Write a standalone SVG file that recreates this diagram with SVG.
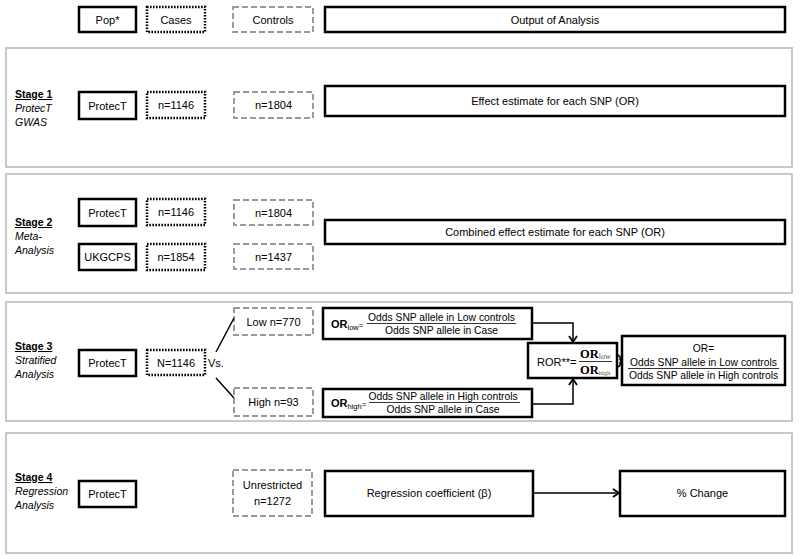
<svg xmlns="http://www.w3.org/2000/svg" width="800" height="559" viewBox="0 0 800 559">
<defs>
<style>
text{font-family:"Liberation Sans",Arial,sans-serif;font-size:11px;fill:#000}
.c{text-anchor:middle}
.panel{fill:#fff;stroke:#c8c8c8;stroke-width:2}
.solid{fill:#fff;stroke:#000;stroke-width:2.5}
.dot{fill:#fff;stroke:#000;stroke-width:2.5;stroke-dasharray:1.6 1.4}
.dash{fill:#fff;stroke:#9a9a9a;stroke-width:2;stroke-dasharray:6 3}
.lbl{font-size:10.5px}
.st{font-weight:bold;text-decoration:underline}
.it{font-style:italic}
.fr{font-size:10.3px}
.bar{stroke:#000;stroke-width:0.8}
.conn{fill:none;stroke:#000;stroke-width:1.5}
.serif{font-family:"Liberation Serif","Times New Roman",serif;font-weight:bold;font-size:12.5px}
</style>
<marker id="arr" markerWidth="10" markerHeight="10" refX="7" refY="5" orient="auto" markerUnits="userSpaceOnUse">
<path d="M1,1 L7,5 L1,9" fill="none" stroke="#000" stroke-width="1.8"/>
</marker>
</defs>
<rect width="800" height="559" fill="#fff"/>

<g id="panels">
<rect id="panel1" class="panel" x="6" y="48" width="786" height="119"/>
<rect id="panel2" class="panel" x="6" y="174" width="786" height="119"/>
<rect id="panel3" class="panel" x="6" y="302" width="786" height="119"/>
<rect id="panel4" class="panel" x="6" y="433" width="786" height="120"/>
</g>

<g id="header">
<g id="h-pop"><rect class="solid" x="79" y="7" width="57" height="25"/><text class="c" x="107.5" y="23.5">Pop*</text></g>
<g id="h-cases"><rect class="dot" x="147" y="7" width="58" height="25"/><text class="c" x="176" y="23.5">Cases</text></g>
<g id="h-controls"><rect class="dash" x="233" y="7" width="80" height="25"/><text class="c" x="273" y="23.5">Controls</text></g>
<g id="h-output"><rect class="solid" x="325" y="7" width="460" height="25"/><text class="c" x="555" y="23.5">Output of Analysis</text></g>
</g>

<g id="stage1">
<g id="s1-label"><text class="lbl st" x="15" y="98">Stage 1</text><text class="lbl it" x="15" y="112">ProtecT</text><text class="lbl it" x="15" y="126">GWAS</text></g>
<g id="s1-pop"><rect class="solid" x="79" y="92" width="57" height="27"/><text class="c" x="107.5" y="109.5">ProtecT</text></g>
<g id="s1-cases"><rect class="dot" x="147" y="92" width="58" height="26"/><text class="c" x="176" y="109">n=1146</text></g>
<g id="s1-controls"><rect class="dash" x="234" y="92" width="79" height="26"/><text class="c" x="273.5" y="109">n=1804</text></g>
<g id="s1-output"><rect class="solid" x="325" y="86" width="460" height="30"/><text class="c" x="555" y="105">Effect estimate for each SNP (OR)</text></g>
</g>

<g id="stage2">
<g id="s2-label"><text class="lbl st" x="15" y="226">Stage 2</text><text class="lbl it" x="15" y="240">Meta-</text><text class="lbl it" x="15" y="254">Analysis</text></g>
<g id="s2-pop1"><rect class="solid" x="79" y="199" width="57" height="27"/><text class="c" x="107.5" y="216.5">ProtecT</text></g>
<g id="s2-cases1"><rect class="dot" x="147" y="199" width="58" height="26"/><text class="c" x="176" y="216">n=1146</text></g>
<g id="s2-controls1"><rect class="dash" x="234" y="200" width="79" height="25"/><text class="c" x="273.5" y="216.5">n=1804</text></g>
<g id="s2-pop2"><rect class="solid" x="79" y="244" width="57" height="26"/><text class="c" x="107.5" y="261">UKGCPS</text></g>
<g id="s2-cases2"><rect class="dot" x="147" y="244" width="58" height="26"/><text class="c" x="176" y="261">n=1854</text></g>
<g id="s2-controls2"><rect class="dash" x="234" y="244" width="79" height="25"/><text class="c" x="273.5" y="260.5">n=1437</text></g>
<g id="s2-output"><rect class="solid" x="325" y="220" width="460" height="24"/><text class="c" x="555" y="236">Combined effect estimate for each SNP (OR)</text></g>
</g>

<g id="stage3">
<g id="s3-label"><text class="lbl st" x="15" y="350">Stage 3</text><text class="lbl it" x="15" y="364">Stratified</text><text class="lbl it" x="15" y="378">Analysis</text></g>
<g id="s3-pop"><rect class="solid" x="79" y="350" width="57" height="26"/><text class="c" x="107.5" y="367">ProtecT</text></g>
<g id="s3-cases"><rect class="dot" x="147" y="350" width="58" height="25"/><text class="c" x="176" y="366.5">N=1146</text></g>
<text id="s3-vs" x="208" y="367">Vs.</text>
<g id="s3-low"><rect class="dash" x="234" y="308" width="79" height="27"/><text class="c" x="273.5" y="325.5">Low n=770</text></g>
<g id="s3-high"><rect class="dash" x="234" y="388" width="79" height="28"/><text class="c" x="273.5" y="406">High n=93</text></g>
<g id="s3-orlow"><rect class="solid" x="323" y="308" width="209" height="31"/>
<text x="331" y="328"><tspan font-weight="bold">OR</tspan><tspan font-size="7.5" dy="2">low</tspan><tspan font-size="8" dy="-2">=</tspan></text>
<text class="c fr" x="441.5" y="321">Odds SNP allele in Low controls</text>
<line class="bar" x1="367" y1="323.5" x2="516" y2="323.5"/>
<text class="c fr" x="441.5" y="334">Odds SNP allele in Case</text></g>
<g id="s3-orhigh"><rect class="solid" x="323" y="389" width="209" height="28"/>
<text x="331" y="407"><tspan font-weight="bold">OR</tspan><tspan font-size="7.5" dy="2">high</tspan><tspan font-size="8" dy="-2">=</tspan></text>
<text class="c fr" x="443" y="400">Odds SNP allele in High controls</text>
<line class="bar" x1="369" y1="402.5" x2="520" y2="402.5"/>
<text class="c fr" x="443" y="413">Odds SNP allele in Case</text></g>
<g id="s3-ror"><rect class="solid" x="528" y="343" width="89" height="35"/>
<text x="537" y="366">ROR**=</text>
<text class="serif" x="580" y="358">OR<tspan font-size="8" font-weight="normal" fill="#555" dy="1">low</tspan></text>
<line class="bar" x1="579" y1="361.5" x2="612" y2="361.5"/>
<text class="serif" x="580" y="374">OR<tspan font-size="6.5" font-weight="normal" fill="#555" dy="1">high</tspan></text></g>
<g id="s3-or"><rect class="solid" x="622" y="336" width="163" height="49"/>
<text class="c fr" x="703.5" y="352">OR=</text>
<text class="c fr" x="703.5" y="366">Odds SNP allele in Low controls</text>
<line class="bar" x1="628" y1="368.5" x2="779" y2="368.5"/>
<text class="c fr" x="703.5" y="379">Odds SNP allele in High controls</text></g>
</g>

<g id="stage4">
<g id="s4-label"><text class="lbl st" x="15" y="481">Stage 4</text><text class="lbl it" x="15" y="495">Regression</text><text class="lbl it" x="15" y="509">Analysis</text></g>
<g id="s4-pop"><rect class="solid" x="79" y="481" width="57" height="26"/><text class="c" x="107.5" y="498">ProtecT</text></g>
<g id="s4-controls"><rect class="dash" x="233" y="470" width="79" height="46"/><text class="c" x="272.5" y="489">Unrestricted</text><text class="c" x="272.5" y="505">n=1272</text></g>
<g id="s4-coef"><rect class="solid" x="325" y="471" width="208" height="45"/><text class="c" x="429" y="497">Regression coefficient (β)</text></g>
<g id="s4-change"><rect class="solid" x="620" y="471" width="165" height="45"/><text class="c" x="702.5" y="497">% Change</text></g>
</g>

<g id="connectors">
<line class="conn" stroke-width="1.2" x1="216" y1="352" x2="234" y2="318"/>
<line class="conn" stroke-width="1.2" x1="216" y1="378" x2="234" y2="398"/>
<path class="conn" d="M532,323 H573 V342" marker-end="url(#arr)"/>
<path class="conn" d="M532,404 H573 V379" marker-end="url(#arr)"/>
<path d="M617.5,355 Q621,356 620,359.5 Q621,361 622.5,361 Q621,361 620,362.5 Q621,366 617.5,367" fill="none" stroke="#000" stroke-width="1.5"/>
<path class="conn" d="M533,493 H619" marker-end="url(#arr)"/>
</g>
</svg>
